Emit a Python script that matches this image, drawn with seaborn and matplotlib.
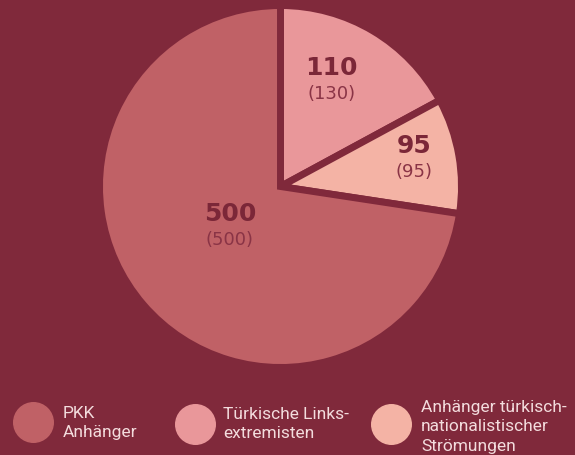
import matplotlib
matplotlib.use("Agg")
import matplotlib.pyplot as plt
import seaborn as sns

# data
categories = ["PKK\nAnhänger", "Türkische Links-\nextremisten",
              "Anhänger türkisch-\nnationalistischer\nStrömungen"]
values = [500, 110, 95]
previous = [500, 130, 95]
# wedge sizes as drawn in the source (%), not proportional to the labels
slice_sizes = [72.6, 17.1, 10.3]

bg = "#80293B"
colors = ["#C06166", "#E9979A", "#F4B3A5"]
label_dark = "#7B2738"

sns.set_theme(style="white")
plt.rcParams["font.family"] = ["DejaVu Sans"]

W, H = 575, 456
fig = plt.figure(figsize=(W / 100, H / 100), dpi=100, facecolor=bg)

# pie axes placed around centre (280.5, 187.5) px, radius ~181 px
cx, cy, R = 280.5, 187.5, 181
pad = 1.1
ax = fig.add_axes([(cx - pad * R) / W, (H - cy - pad * R) / H,
                   2 * pad * R / W, 2 * pad * R / H])
ax.set_facecolor(bg)

# plot order: small slices start at 12 o'clock, clockwise, big slice last
order = [1, 2, 0]
wedges, _ = ax.pie([slice_sizes[i] for i in order],
                   colors=[colors[i] for i in order],
                   startangle=90, counterclock=False, radius=1.0,
                   wedgeprops=dict(edgecolor=bg, linewidth=5))
ax.set_xlim(-pad, pad)
ax.set_ylim(-pad, pad)
ax.set_aspect("equal")
ax.axis("off")

# value labels: (x, baseline of number) in pie units
label_pos = {0: (-0.28, -0.185), 1: (0.28, 0.62), 2: (0.74, 0.19)}
for i in order:
    x, y = label_pos[i]
    ax.text(x, y, f"{values[i]}", ha="center", va="baseline",
            fontsize=18, fontweight="bold", color=label_dark)
    ax.text(x, y - 0.13, f"({previous[i]})", ha="center", va="baseline",
            fontsize=13, color="#8A3446")

# legend: circles with text below the pie (pixel positions)
circle_x = [33, 195, 391]
circle_y = [423, 425, 425]
text_x = [63, 223, 421]
text_y = [423, 424, 427]
for i, lab in enumerate(categories):
    fig.add_artist(plt.Line2D([circle_x[i] / W], [1 - circle_y[i] / H],
                              marker="o", markersize=28.5, color=colors[i],
                              linestyle="none", transform=fig.transFigure))
    fig.text(text_x[i] / W, 1 - text_y[i] / H, lab, ha="left", va="center",
             fontsize=12.5, family=["Roboto", "DejaVu Sans"],
             color="#F3DCDD", linespacing=1.38)

fig.savefig("out.png", dpi=100, facecolor=bg)
